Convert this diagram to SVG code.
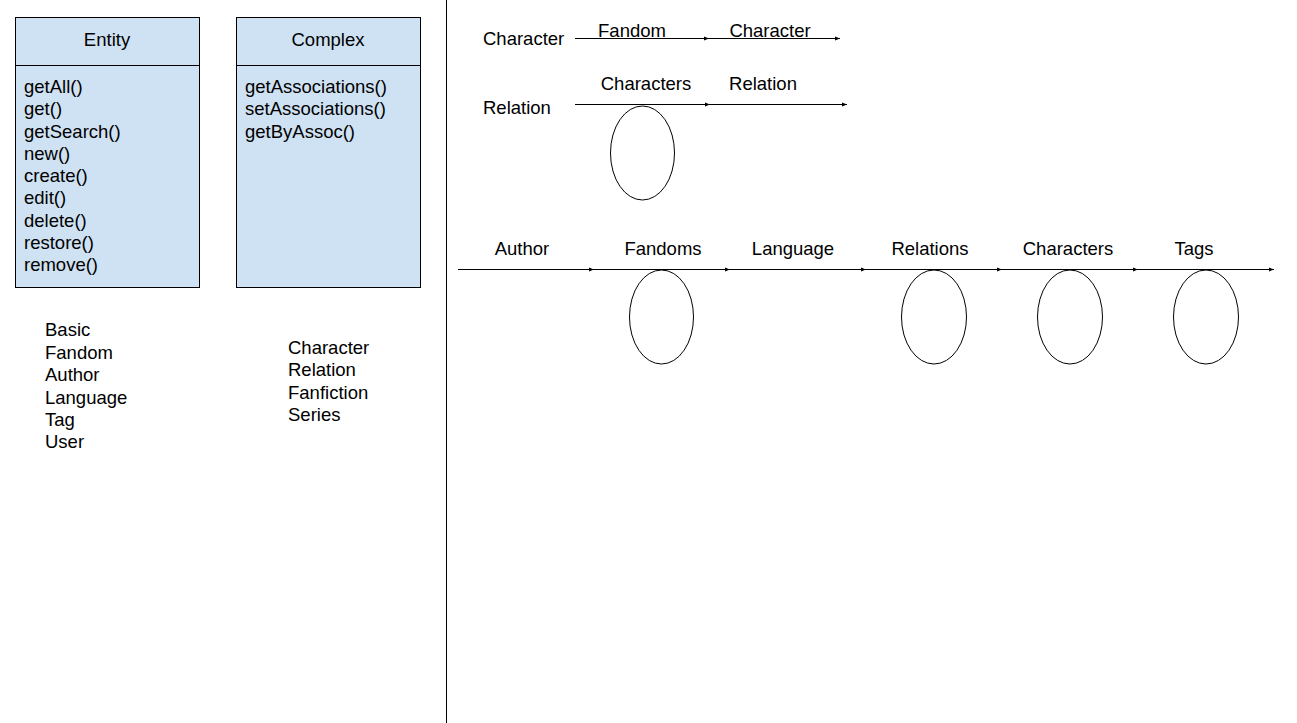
<svg xmlns="http://www.w3.org/2000/svg" width="1297" height="723" viewBox="0 0 1297 723">
<style>
text{font-family:"Liberation Sans",Arial,sans-serif;font-size:18.5px;fill:#000}
.box{fill:#cfe2f3;stroke:#000;stroke-width:1}
.c{fill:none;stroke:#000;stroke-width:1}
.e{fill:none;stroke:#000;stroke-width:1}
.m{text-anchor:middle}
</style>
<defs>
<marker id="ah" viewBox="0 0 10 10" refX="10" refY="5" markerWidth="5" markerHeight="5" markerUnits="userSpaceOnUse" orient="auto">
<path d="M0,1 L10,5 L0,9 Z" fill="#000"/>
</marker>
</defs>
<rect width="1297" height="723" fill="#fff"/>
<line x1="446.5" y1="0" x2="446.5" y2="723" stroke="#000" stroke-width="1"/>
<g id="entity">
<rect class="box" x="15.5" y="17.5" width="184" height="270"/>
<line x1="15.5" y1="65.5" x2="199.5" y2="65.5" stroke="#000"/>
<text class="m" x="107" y="46">Entity</text>
<text x="24" y="93">getAll()</text>
<text x="24" y="115">get()</text>
<text x="24" y="138">getSearch()</text>
<text x="24" y="160">new()</text>
<text x="24" y="182">create()</text>
<text x="24" y="204">edit()</text>
<text x="24" y="227">delete()</text>
<text x="24" y="249">restore()</text>
<text x="24" y="271">remove()</text>
</g>
<g id="complex">
<rect class="box" x="236.5" y="17.5" width="184" height="270"/>
<line x1="236.5" y1="65.5" x2="420.5" y2="65.5" stroke="#000"/>
<text class="m" x="328" y="46">Complex</text>
<text x="245" y="93">getAssociations()</text>
<text x="245" y="115">setAssociations()</text>
<text x="245" y="138">getByAssoc()</text>
</g>
<g id="basic-list">
<text x="45" y="336">Basic</text>
<text x="45" y="359">Fandom</text>
<text x="45" y="381">Author</text>
<text x="45" y="404">Language</text>
<text x="45" y="426">Tag</text>
<text x="45" y="448">User</text>
</g>
<g id="complex-list">
<text x="288" y="354">Character</text>
<text x="288" y="376">Relation</text>
<text x="288" y="399">Fanfiction</text>
<text x="288" y="421">Series</text>
</g>
<g id="character-row">
<text x="483" y="45">Character</text>
<text class="m" x="632" y="37">Fandom</text>
<text class="m" x="770" y="37">Character</text>
</g>
<g id="relation-row">
<text x="483" y="114">Relation</text>
<text class="m" x="646" y="90">Characters</text>
<text class="m" x="763" y="90">Relation</text>
<ellipse class="e" cx="642.5" cy="153" rx="32" ry="47"/>
</g>
<g id="ficrow">
<text class="m" x="522" y="255">Author</text>
<text class="m" x="663" y="255">Fandoms</text>
<text class="m" x="793" y="255">Language</text>
<text class="m" x="930" y="255">Relations</text>
<text class="m" x="1068" y="255">Characters</text>
<text class="m" x="1194" y="255">Tags</text>
<ellipse class="e" cx="661.5" cy="317" rx="32" ry="47"/>
<ellipse class="e" cx="934" cy="317" rx="32.5" ry="47"/>
<ellipse class="e" cx="1070" cy="317" rx="32.5" ry="47"/>
<ellipse class="e" cx="1206" cy="317" rx="32.5" ry="47"/>
</g>
<g id="connectors">
<line class="c" x1="575" y1="38.5" x2="709" y2="38.5" marker-end="url(#ah)"/>
<line class="c" x1="709" y1="38.5" x2="840" y2="38.5" marker-end="url(#ah)"/>
<line class="c" x1="575" y1="104.5" x2="710" y2="104.5" marker-end="url(#ah)"/>
<line class="c" x1="710" y1="104.5" x2="847" y2="104.5" marker-end="url(#ah)"/>
<line class="c" x1="458" y1="269.5" x2="594" y2="269.5" marker-end="url(#ah)"/>
<line class="c" x1="594" y1="269.5" x2="730" y2="269.5" marker-end="url(#ah)"/>
<line class="c" x1="730" y1="269.5" x2="866" y2="269.5" marker-end="url(#ah)"/>
<line class="c" x1="866" y1="269.5" x2="1002" y2="269.5" marker-end="url(#ah)"/>
<line class="c" x1="1002" y1="269.5" x2="1138" y2="269.5" marker-end="url(#ah)"/>
<line class="c" x1="1138" y1="269.5" x2="1274" y2="269.5" marker-end="url(#ah)"/>
</g>
</svg>
